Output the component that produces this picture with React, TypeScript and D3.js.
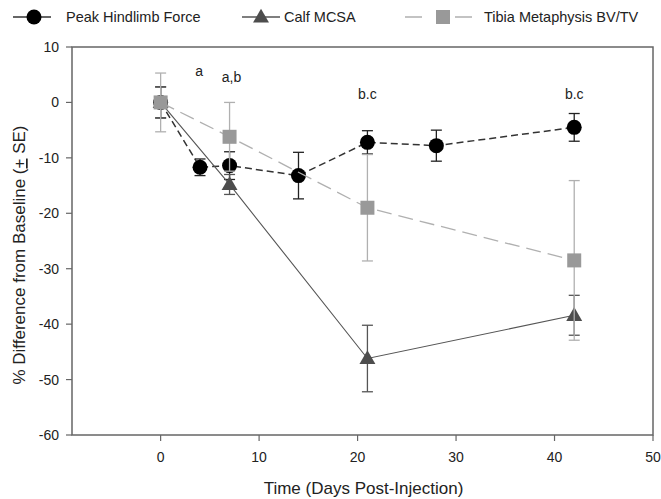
import React from "react";
import * as d3 from "d3";

const peakDays = [0, 4, 7, 14, 21, 28, 42];
const peakValues = [0, -11.7, -11.4, -13.2, -7.2, -7.8, -4.5];
const peakErr = [2.8, 1.5, 2.5, 4.2, 2.1, 2.8, 2.5];

const calfDays = [0, 7, 21, 42];
const calfValues = [0, -14.8, -46.2, -38.4];
const calfErr = [2.8, 1.8, 6.0, 3.6];

const bvDays = [0, 7, 21, 42];
const bvValues = [0, -6.2, -19.0, -28.5];
const bvErr = [5.3, 6.2, 9.6, 14.4];

const xTicks = [0, 10, 20, 30, 40, 50];
const yTicks = [10, 0, -10, -20, -30, -40, -50, -60];

const annotations = [
  { day: 3.9, value: 4.8, text: "a" },
  { day: 7.2, value: 3.6, text: "a,b" },
  { day: 21, value: 0.6, text: "b.c" },
  { day: 42, value: 0.6, text: "b.c" },
];

const seriesNames = ["Peak Hindlimb Force", "Calf MCSA", "Tibia Metaphysis BV/TV"];

const W = 661;
const H = 499;
const margin = { left: 72, right: 8, top: 47, bottom: 64 };

const x = d3.scaleLinear().domain([-9, 50]).range([margin.left, W - margin.right]);
const y = d3.scaleLinear().domain([-60, 10]).range([H - margin.bottom, margin.top]);

const FONT = "'Liberation Sans', Arial, sans-serif";

type Series = {
  days: number[];
  values: number[];
  err: number[];
  errColor: string;
  lineColor: string;
  dash: string | undefined;
  lineWidth: number;
  shape: "circle" | "triangle" | "square";
  fill: string;
};

const series: Series[] = [
  {
    days: peakDays, values: peakValues, err: peakErr, errColor: "#222",
    lineColor: "#333", dash: "7,4", lineWidth: 1.5, shape: "circle", fill: "#000",
  },
  {
    days: calfDays, values: calfValues, err: calfErr, errColor: "#555",
    lineColor: "#555", dash: undefined, lineWidth: 1.1, shape: "triangle", fill: "#4d4d4d",
  },
  {
    days: bvDays, values: bvValues, err: bvErr, errColor: "#b0b0b0",
    lineColor: "#b0b0b0", dash: "15,7", lineWidth: 1.3, shape: "square", fill: "#999",
  },
];

function Marker({ shape, cx, cy, fill }: { shape: string; cx: number; cy: number; fill: string }) {
  if (shape === "circle") return <circle cx={cx} cy={cy} r={7.5} fill={fill} />;
  if (shape === "square") return <rect x={cx - 7} y={cy - 7} width={14} height={14} fill={fill} />;
  const s = d3.symbol().type(d3.symbolTriangle).size(110)();
  return <path d={s as string} transform={`translate(${cx},${cy + 1})`} fill={fill} />;
}

export default function App() {
  const line = d3.line<[number, number]>().x((d) => x(d[0])).y((d) => y(d[1]));
  const x0 = margin.left;
  const x1 = W - margin.right;
  const y0 = margin.top;
  const y1 = H - margin.bottom;

  const legendItems = [
    { s: series[0], lx1: 13, lx2: 51, mx: 34, tx: 66 },
    { s: series[1], lx1: 242, lx2: 280, mx: 261, tx: 284 },
    { s: series[2], lx1: 405, lx2: 473, mx: 443, tx: 484 },
  ];

  return (
    <svg width={W} height={H} style={{ position: "absolute", left: 0, top: 0, background: "#fff" }} fontFamily={FONT}>
      <rect width={W} height={H} fill="#fff" />
      {legendItems.map((it, i) => (
        <g key={i}>
          <line x1={it.lx1} x2={it.lx2} y1={17} y2={17} stroke={it.s.lineColor} strokeWidth={1.5}
            strokeDasharray={i === 2 ? "17,33,17" : undefined} />
          <Marker shape={it.s.shape} cx={it.mx} cy={17} fill={it.s.fill} />
          <text x={it.tx} y={22} fontSize={14.5} fill="#222">{seriesNames[i]}</text>
        </g>
      ))}

      <rect x={x0} y={y0} width={x1 - x0} height={y1 - y0} fill="none" stroke="#666" strokeWidth={1.5} />

      {yTicks.map((t) => (
        <g key={t}>
          <line x1={x0 - 6} x2={x0} y1={y(t)} y2={y(t)} stroke="#666" strokeWidth={1.2} />
          <text x={x0 - 13} y={y(t) + 5} fontSize={14} textAnchor="end" fill="#222">{t}</text>
        </g>
      ))}
      {xTicks.map((t) => (
        <g key={t}>
          <line x1={x(t)} x2={x(t)} y1={y1} y2={y1 + 6} stroke="#666" strokeWidth={1.2} />
          <text x={x(t)} y={y1 + 27} fontSize={14} textAnchor="middle" fill="#222">{t}</text>
        </g>
      ))}

      <text x={(x0 + x1) / 2 + 1} y={H - 5} fontSize={17} textAnchor="middle" fill="#222">Time (Days Post-Injection)</text>
      <text transform={`translate(25, ${(y0 + y1) / 2 + 14}) rotate(-90)`} fontSize={17} textAnchor="middle" fill="#222">
        % Difference from Baseline (<tspan textDecoration="underline">+</tspan> SE)
      </text>

      {series.map((s, si) => {
        const pts: [number, number][] = s.days.map((d, i) => [d, s.values[i]]);
        return (
          <g key={si}>
            <path d={line(pts) as string} fill="none" stroke={s.lineColor} strokeWidth={s.lineWidth} strokeDasharray={s.dash} />
            {pts.map((p, i) => {
              const cx = x(p[0]);
              const top = y(p[1] + s.err[i]);
              const bot = y(p[1] - s.err[i]);
              return (
                <g key={i} stroke={s.errColor} strokeWidth={1.3}>
                  <line x1={cx} x2={cx} y1={top} y2={bot} />
                  <line x1={cx - 5.5} x2={cx + 5.5} y1={top} y2={top} />
                  <line x1={cx - 5.5} x2={cx + 5.5} y1={bot} y2={bot} />
                </g>
              );
            })}
            {pts.map((p, i) => (
              <Marker key={`m${i}`} shape={s.shape} cx={x(p[0])} cy={y(p[1])} fill={s.fill} />
            ))}
          </g>
        );
      })}

      {annotations.map((a, i) => (
        <text key={i} x={x(a.day)} y={y(a.value)} fontSize={14} textAnchor="middle" fill="#222">{a.text}</text>
      ))}
    </svg>
  );
}
